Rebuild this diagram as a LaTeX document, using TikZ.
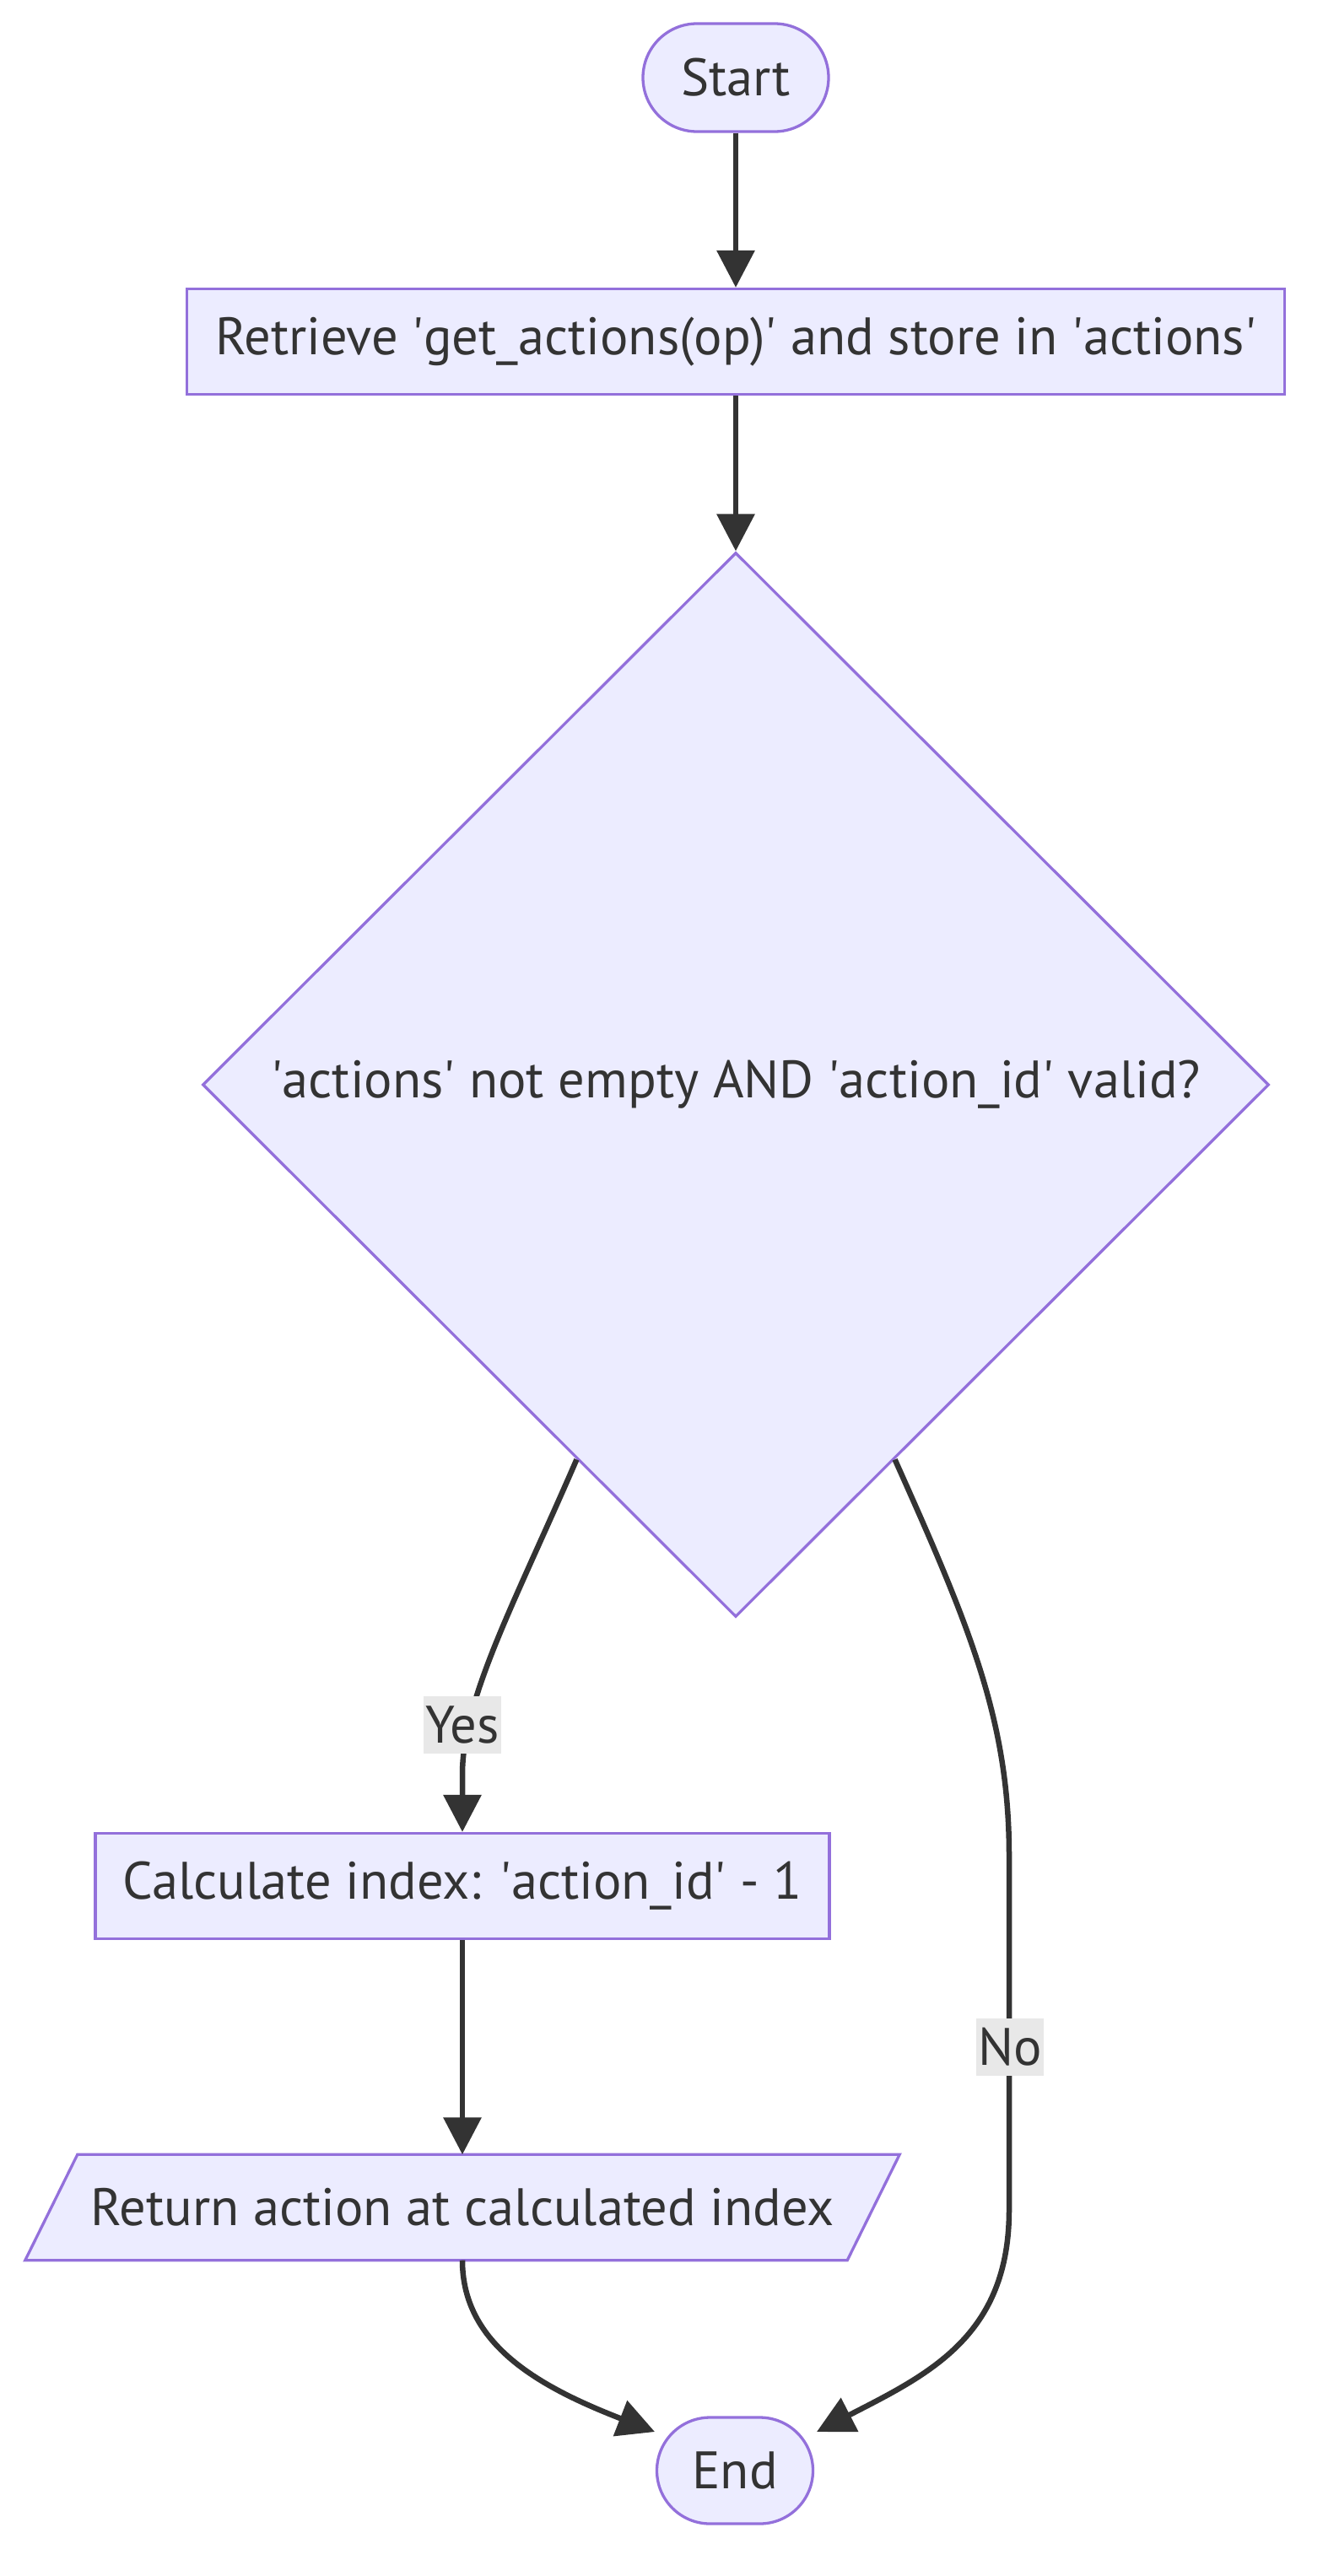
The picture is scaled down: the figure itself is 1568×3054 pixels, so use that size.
\documentclass[tikz,border=0pt]{standalone}
\usepackage{fontspec}
\setmainfont{PT Sans}
\usetikzlibrary{arrows.meta,shapes.geometric,backgrounds,calc}
\definecolor{nodefill}{HTML}{ECECFF}
\definecolor{nodeborder}{HTML}{9370DB}
\definecolor{edgecol}{HTML}{333333}
\definecolor{labelbg}{HTML}{E8E8E8}
\newcommand{\sq}{\textquotesingle}
\begin{document}
\begin{tikzpicture}[x=1pt,y=-1pt,
  base/.style={fill=nodefill, draw=nodeborder, line width=3.3pt, text=edgecol,
    font=\fontsize{62.5}{74}\selectfont, inner sep=0pt},
  term/.style={base, rectangle},
  proc/.style={base, rectangle, minimum height=125pt},
  decision/.style={base, diamond, aspect=1, minimum width=1264pt, minimum height=1262pt},
  conn/.style={draw=edgecol, line width=6.5pt, -{Triangle[length=44pt,width=44pt]}},
  elabel/.style={fill=labelbg, text=edgecol, font=\fontsize{62.5}{74}\selectfont,
    inner xsep=2pt, inner ysep=0pt, minimum height=68pt}
]
\useasboundingbox (0,0) rectangle (1568,3054);

\node[term, rounded corners=64pt, minimum width=220pt, minimum height=128pt] (start) at (872,92) {Start};
\node[proc, minimum width=1301pt] (retr) at (872,405) {Retrieve \sq get\_actions(op)\sq{} and store in \sq actions\sq};
\node[decision] (dec) at (872,1286) {\sq actions\sq{} not empty AND \sq action\_id\sq{} valid?};
\node[proc, minimum width=870pt] (calc) at (548,2236) {Calculate index: \sq action\_id\sq{} - 1};
\node[text=edgecol, font=\fontsize{62.5}{74}\selectfont, inner sep=0pt, minimum width=974pt, minimum height=125pt] (ret) at (548,2617) {Return action at calculated index};
\node[term, rounded corners=63pt, minimum width=185pt, minimum height=126pt] (endn) at (871,2929) {End};

\begin{scope}[on background layer]
\filldraw[fill=nodefill, draw=nodeborder, line width=3.3pt]
  ([xshift=31pt]ret.north west) -- ([xshift=31pt]ret.north east) --
  ([xshift=-31pt]ret.south east) -- ([xshift=-31pt]ret.south west) -- cycle;
\end{scope}

\draw[conn] (start.south) -- (retr.north);
\draw[conn] (retr.south) -- (dec.north);
\draw[conn] (dec.247) .. controls (610,1900) and (550,2010) .. (548,2100) -- (calc.north);
\draw[conn] (dec.293) .. controls (1150,1930) and (1196,2040) .. (1196,2200) -- (1196,2620)
  .. controls (1196,2770) and (1100,2815) .. ([shift={(97,-46)}]endn.center);
\draw[conn] (calc.south) -- (ret.north);
\draw[conn] (ret.south) .. controls (548,2780) and (640,2830) .. ([shift={(-95,-46)}]endn.center);

\node[elabel] (lyes) at (548,2045) {Yes};
\node[elabel] (lno) at (1197,2427) {No};
\end{tikzpicture}
\end{document}
